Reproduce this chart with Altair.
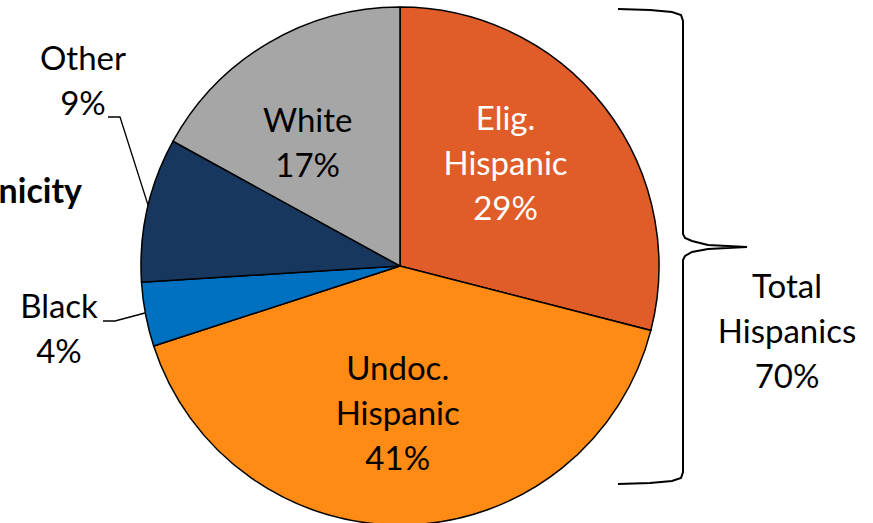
import altair as alt
import pandas as pd

# ---- data ----
categories = ["Elig. Hispanic", "Undoc. Hispanic", "Black", "Other", "White"]
shares = [29, 41, 4, 9, 17]
colors = ["#E05C28", "#FF8A14", "#0070C0", "#17375E", "#A6A6A6"]
inner_labels = ["Elig.\nHispanic\n29%", "Undoc.\nHispanic\n41%", "", "", "White\n17%"]
label_colors = ["white", "black", "black", "black", "black"]
outer_labels = ["Other\n9%", "Black\n4%"]
group_label = "Total\nHispanics\n70%"
side_title = "nicity"

W, H = 873, 523
CX, CY, R = 400, 266, 259
FONT = "Lato"
FS = 33
LH = 45

df = pd.DataFrame({
    "category": categories,
    "share": shares,
    "order": list(range(len(categories))),
    "color": colors,
    "label": inner_labels,
    "label_color": label_colors,
})

theta = alt.Theta("share:Q", stack=True)
order = alt.Order("order:Q", sort="ascending")

pie = alt.Chart(df).mark_arc(outerRadius=R, stroke="black", strokeWidth=1.5).encode(
    theta=theta,
    order=order,
    color=alt.Color("color:N", scale=None),
    x=alt.value(CX),
    y=alt.value(CY),
)

# per-label nudges relative to the slice mid-angle at radius 150
nudges = {"Elig. Hispanic": (-13, -9), "Undoc. Hispanic": (-7, -1), "White": (-16, 8)}
inner_layers = []
for cat, (ndx, ndy) in nudges.items():
    nlines = inner_labels[categories.index(cat)].count("\n") + 1
    inner_layers.append(
        alt.Chart(df).mark_text(
            radius=150, font=FONT, fontSize=FS, lineBreak="\n", lineHeight=LH,
            align="center", baseline="middle",
            dx=ndx, dy=ndy - (nlines - 1) * LH / 2,
        ).encode(
            theta=theta,
            order=order,
            text="label:N",
            color=alt.Color("label_color:N", scale=None),
            opacity=alt.condition(alt.datum.category == cat, alt.value(1), alt.value(0)),
            x=alt.value(CX),
            y=alt.value(CY),
        )
    )

# ---- annotations (pixel coordinate system) ----
xs = alt.Scale(domain=[0, W], range=[0, W])
ys = alt.Scale(domain=[0, H], range=[0, H])

ann_text = pd.DataFrame({
    "text": [outer_labels[0], outer_labels[1], group_label],
    "x": [83, 59, 787],
    "y": [60, 308, 288],
})
outer = alt.Chart(ann_text).mark_text(
    font=FONT, fontSize=FS, lineBreak="\n", lineHeight=LH, align="center", baseline="middle"
).encode(
    x=alt.X("x:Q", scale=xs, axis=None),
    y=alt.Y("y:Q", scale=ys, axis=None),
    text="text:N",
)

title_df = pd.DataFrame({"text": [side_title], "x": [82], "y": [193]})
title = alt.Chart(title_df).mark_text(
    font=FONT, fontSize=34, fontWeight="bold", align="right", baseline="middle"
).encode(
    x=alt.X("x:Q", scale=xs, axis=None),
    y=alt.Y("y:Q", scale=ys, axis=None),
    text="text:N",
)

leaders = pd.DataFrame({
    "line": ["other"] * 3 + ["black"] * 3,
    "i": [0, 1, 2, 0, 1, 2],
    "x": [108, 120, 148, 103, 115, 145],
    "y": [117, 117, 205, 321, 321, 313],
})
lead = alt.Chart(leaders).mark_line(color="black", strokeWidth=1.3).encode(
    x=alt.X("x:Q", scale=xs, axis=None),
    y=alt.Y("y:Q", scale=ys, axis=None),
    detail="line:N",
    order="i:Q",
)

brace_x = [618, 650, 672, 681, 683, 683, 685, 692, 708, 747,
           708, 692, 685, 683, 683, 681, 672, 650, 618]
brace_y = [9, 10, 12, 15, 21, 234, 238, 241, 245, 247,
           249, 252, 256, 260, 472, 478, 481, 483, 484]
brace_df = pd.DataFrame({"i": list(range(len(brace_x))), "x": brace_x, "y": brace_y})
brace = alt.Chart(brace_df).mark_line(color="black", strokeWidth=2, interpolate="linear").encode(
    x=alt.X("x:Q", scale=xs, axis=None),
    y=alt.Y("y:Q", scale=ys, axis=None),
    order="i:Q",
)

chart = alt.layer(pie, *inner_layers, lead, brace, outer, title).properties(
    width=W, height=H, padding=0, autosize=alt.AutoSizeParams(type="none"),
    background="white",
).configure_view(stroke=None)

chart.save("out.html", embed_options={"renderer": "svg", "actions": False})
